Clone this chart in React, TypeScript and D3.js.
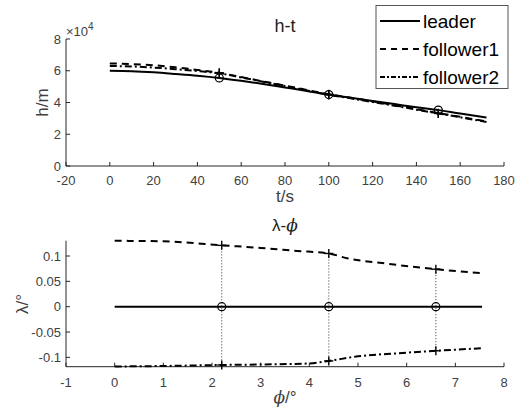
import React from "react";
import * as d3 from "d3";

// ---- top chart data (h in units of 1e4 m) ----
const tVals = [0, 10, 20, 30, 40, 50, 60, 70, 80, 90, 100, 110, 120, 130, 140, 150, 160, 172];
const hLeader = [6.0, 5.97, 5.9, 5.8, 5.69, 5.55, 5.37, 5.17, 4.95, 4.73, 4.5, 4.3, 4.1, 3.9, 3.7, 3.52, 3.3, 3.06];
const hFollower1 = [6.46, 6.42, 6.35, 6.22, 6.05, 5.87, 5.6, 5.33, 5.06, 4.79, 4.52, 4.3, 4.07, 3.83, 3.58, 3.33, 3.1, 2.8];
const hFollower2 = [6.3, 6.27, 6.2, 6.1, 5.98, 5.84, 5.58, 5.31, 5.04, 4.76, 4.48, 4.26, 4.03, 3.8, 3.55, 3.31, 3.07, 2.77];
const tMarks = [50, 100, 150];
const hTicks = [0, 2, 4, 6, 8];
const tTicks = [-20, 0, 20, 40, 60, 80, 100, 120, 140, 160, 180];

// ---- bottom chart data ----
const phiLeader = [0, 7.55];
const latLeader = [0, 0];
const phiF1 = [0, 1, 2.2, 3, 3.75, 4.4, 4.8, 5.5, 6.6, 7.55];
const latF1 = [0.13, 0.129, 0.121, 0.116, 0.11, 0.105, 0.095, 0.086, 0.074, 0.066];
const phiF2 = [0, 1, 2.2, 3, 4, 4.4, 5, 5.8, 6.6, 7.55];
const latF2 = [-0.118, -0.117, -0.115, -0.114, -0.112, -0.107, -0.098, -0.092, -0.087, -0.082];
const phiMarks = [2.2, 4.4, 6.6];
const latTicks = [-0.1, -0.05, 0, 0.05, 0.1];
const phiTicks = [-1, 0, 1, 2, 3, 4, 5, 6, 7, 8];

const legendItems = ["leader", "follower1", "follower2"];

const FONT = "'Liberation Sans', Arial, sans-serif";
const AX = "#262626";
const TXT = "#404040";
const DASH = "7,5";
const DASHDOT = "7,3,2,3";

function interp(xs: number[], ys: number[], x: number) {
  return d3.scaleLinear().domain(xs).range(ys).clamp(true)(x);
}

export default function App() {
  const W = 518, H = 412;
  // top axes
  const x1 = d3.scaleLinear().domain([-20, 180]).range([66, 504]);
  const y1 = d3.scaleLinear().domain([0, 8]).range([166, 39]);
  // bottom axes
  const x2 = d3.scaleLinear().domain([-1, 8]).range([66, 504]);
  const y2 = d3.scaleLinear().domain([-0.1184, 0.1302]).range([366.7, 240.7]);

  const line1 = d3.line<[number, number]>().x(d => x1(d[0])).y(d => y1(d[1])).curve(d3.curveMonotoneX);
  const line2 = d3.line<[number, number]>().x(d => x2(d[0])).y(d => y2(d[1])).curve(d3.curveMonotoneX);

  const zip = (a: number[], b: number[]) => a.map((v, i) => [v, b[i]] as [number, number]);

  const plus = (cx: number, cy: number, key: string) => (
    <g key={key} stroke="#000" strokeWidth={1.4}>
      <line x1={cx - 4.5} x2={cx + 4.5} y1={cy} y2={cy} />
      <line x1={cx} x2={cx} y1={cy - 4.5} y2={cy + 4.5} />
    </g>
  );

  return (
    <svg width={W} height={H} style={{ position: "absolute", left: 0, top: 0, background: "#fff" }} fontFamily={FONT}>
      <rect width={W} height={H} fill="#fff" />
      {/* ===== TOP ===== */}
      <g>
        <line x1={66} x2={504} y1={166} y2={166} stroke={AX} strokeWidth={1} />
        <line x1={66} x2={66} y1={39} y2={166} stroke={AX} strokeWidth={1} />
        {tTicks.map(t => (
          <g key={"tt" + t}>
            <line x1={x1(t)} x2={x1(t)} y1={166} y2={162} stroke={AX} />
            <text x={x1(t)} y={185} fontSize={13} fill={TXT} textAnchor="middle">{t}</text>
          </g>
        ))}
        {hTicks.map(h => (
          <g key={"ht" + h}>
            <line x1={66} x2={70} y1={y1(h)} y2={y1(h)} stroke={AX} />
            <text x={61} y={y1(h) + 4.5} fontSize={13} fill={TXT} textAnchor="end">{h}</text>
          </g>
        ))}
        <text x={66} y={36} fontSize={13} fill={TXT}>×10<tspan dy={-6} fontSize={10}>4</tspan></text>
        <text x={285} y={32} fontSize={18} fill="#222" textAnchor="middle">h-t</text>
        <text x={285} y={202} fontSize={17} fill={TXT} textAnchor="middle">t/s</text>
        <text transform="translate(48,102.5) rotate(-90)" fontSize={17} fill={TXT} textAnchor="middle">h/m</text>
        <path d={line1(zip(tVals, hFollower2)) || ""} fill="none" stroke="#000" strokeWidth={2} strokeDasharray={DASHDOT} />
        <path d={line1(zip(tVals, hFollower1)) || ""} fill="none" stroke="#000" strokeWidth={2} strokeDasharray={DASH} />
        <path d={line1(zip(tVals, hLeader)) || ""} fill="none" stroke="#000" strokeWidth={2} />
        {tMarks.map(t => (
          <circle key={"c" + t} cx={x1(t)} cy={y1(interp(tVals, hLeader, t))} r={4} fill="none" stroke="#000" strokeWidth={1.2} />
        ))}
        {tMarks.map(t => plus(x1(t), y1(interp(tVals, hFollower1, t)), "p1" + t))}
        {tMarks.map(t => plus(x1(t), y1(interp(tVals, hFollower2, t)), "p2" + t))}
        {/* legend */}
        <rect x={376} y={5.5} width={132} height={83} fill="#fff" stroke="#555" strokeWidth={1} />
        {legendItems.map((name, i) => {
          const cy = 21 + i * 28;
          return (
            <g key={name}>
              <line x1={380} x2={420} y1={cy} y2={cy} stroke="#000" strokeWidth={2}
                strokeDasharray={i === 0 ? undefined : i === 1 ? "6,5" : "5,2,2,2"} />
              <text x={423} y={cy + 7} fontSize={19} fill="#000">{name}</text>
            </g>
          );
        })}
      </g>

      {/* ===== BOTTOM ===== */}
      <g>
        <line x1={66} x2={504} y1={366.7} y2={366.7} stroke={AX} strokeWidth={1} />
        <line x1={66} x2={66} y1={240.7} y2={366.7} stroke={AX} strokeWidth={1} />
        {phiTicks.map(p => (
          <g key={"pt" + p}>
            <line x1={x2(p)} x2={x2(p)} y1={366.7} y2={362.7} stroke={AX} />
            <text x={x2(p)} y={387} fontSize={13} fill={TXT} textAnchor="middle">{p}</text>
          </g>
        ))}
        {latTicks.map(l => (
          <g key={"lt" + l}>
            <line x1={66} x2={70} y1={y2(l)} y2={y2(l)} stroke={AX} />
            <text x={61} y={y2(l) + 4.5} fontSize={13} fill={TXT} textAnchor="end">{l}</text>
          </g>
        ))}
        <text x={285} y={231} fontSize={17} fill="#222" textAnchor="middle">λ-<tspan fontStyle="italic" fontFamily="'DejaVu Serif', serif">ϕ</tspan></text>
        <text x={285} y={403} fontSize={17} fill={TXT} textAnchor="middle"><tspan fontStyle="italic" fontFamily="'DejaVu Serif', serif">ϕ</tspan>/°</text>
        <text transform="translate(28,304) rotate(-90)" fontSize={17} fill={TXT} textAnchor="middle">λ/°</text>
        {phiMarks.map(p => (
          <line key={"v" + p} x1={x2(p)} x2={x2(p)} y1={y2(interp(phiF1, latF1, p))} y2={y2(interp(phiF2, latF2, p))}
            stroke="#333" strokeWidth={1} strokeDasharray="1,2" />
        ))}
        <path d={line2(zip(phiF1, latF1)) || ""} fill="none" stroke="#000" strokeWidth={2} strokeDasharray={DASH} />
        <path d={line2(zip(phiF2, latF2)) || ""} fill="none" stroke="#000" strokeWidth={2} strokeDasharray={DASHDOT} />
        <path d={line2(zip(phiLeader, latLeader)) || ""} fill="none" stroke="#000" strokeWidth={2} />
        {phiMarks.map(p => (
          <circle key={"c2" + p} cx={x2(p)} cy={y2(0)} r={4} fill="none" stroke="#000" strokeWidth={1.2} />
        ))}
        {phiMarks.map(p => plus(x2(p), y2(interp(phiF1, latF1, p)), "q1" + p))}
        {phiMarks.map(p => plus(x2(p), y2(interp(phiF2, latF2, p)), "q2" + p))}
      </g>
    </svg>
  );
}
